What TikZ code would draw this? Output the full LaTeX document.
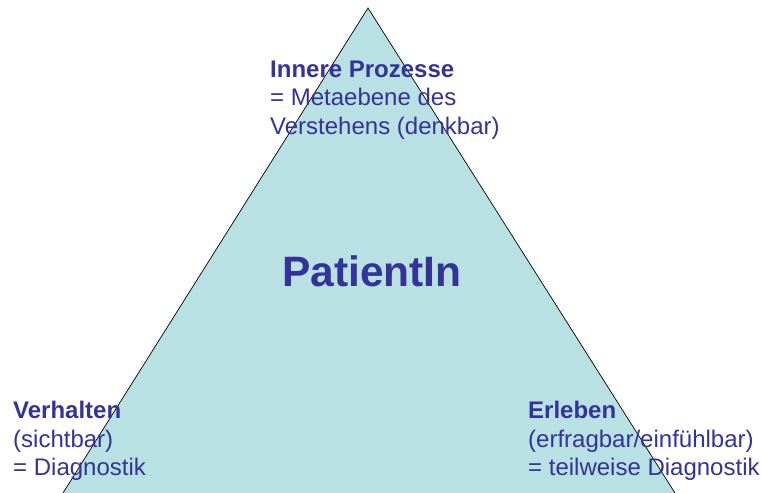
\documentclass[tikz,border=0pt]{standalone}
\usepackage{fontspec}
\setmainfont{Liberation Sans}
\usetikzlibrary{positioning}
\definecolor{tealfill}{RGB}{185,224,227}
\definecolor{textblue}{RGB}{51,51,153}

\begin{document}
\begin{tikzpicture}[x=1pt, y=-1pt,
    txt/.style={text=textblue, align=left, inner sep=0pt, anchor=north west, font=\fontsize{24}{28.5}\selectfont}]
    \useasboundingbox (0,0) rectangle (761,493);

    \begin{scope}
        \clip (0,0) rectangle (761,493);
        \coordinate (top) at (368,8);
        \coordinate (left) at (-4.3,600);
        \coordinate (right) at (742.7,600);
        \draw[fill=tealfill, line width=0.7pt] (left) -- (top) -- (right) -- cycle;
    \end{scope}

    \node[txt] (inner) at (270,60.3) {\textbf{Innere Prozesse}\\= Metaebene des\\Verstehens (denkbar)};
    \node[txt] (behav) at (13,401) {\textbf{Verhalten}\\(sichtbar)\\= Diagnostik};
    \node[txt] (exper) at (528,401) {\textbf{Erleben}\\(erfragbar/einfühlbar)\\= teilweise Diagnostik};
    \node[text=textblue, inner sep=0pt, anchor=base, font=\fontsize{42.5}{50}\selectfont\bfseries] (patient) at (372,286) {PatientIn};

\end{tikzpicture}
\end{document}
